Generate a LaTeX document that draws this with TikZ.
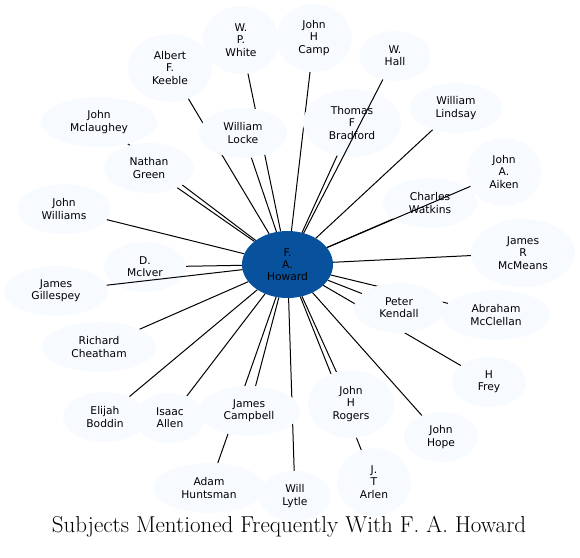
\documentclass[tikz,border=0pt]{standalone}
\usepackage{fontspec}
\newfontfamily\nodefont{DejaVu Sans}
\usetikzlibrary{shapes.geometric,backgrounds}
\definecolor{lightblue}{HTML}{F7FBFF}
\definecolor{darkblue}{HTML}{08519C}
\begin{document}
\begin{tikzpicture}[x=1pt,y=-1pt,
  person/.style={ellipse, fill=lightblue, inner sep=0pt, outer sep=0pt, align=center,
    font=\nodefont\fontsize{10.7}{12.3}\selectfont},
  link/.style={black, line width=1pt}]
\useasboundingbox (0,0) rectangle (580,557);
\node[person, minimum width=91, minimum height=67, fill=darkblue] (howard) at (287.5,264.5) {F.\\A.\\Howard};
\node[person, minimum width=76, minimum height=68] (white) at (241,40) {W.\\P.\\White};
\node[person, minimum width=76, minimum height=68] (camp) at (314,38) {John\\H\\Camp};
\node[person, minimum width=84, minimum height=68] (keeble) at (170,68) {Albert\\F.\\Keeble};
\node[person, minimum width=72, minimum height=50] (hall) at (395,56) {W.\\Hall};
\node[person, minimum width=116, minimum height=50] (mclaughey) at (99,122) {John\\Mclaughey};
\node[person, minimum width=88, minimum height=50] (locke) at (243,133) {William\\Locke};
\node[person, minimum width=98, minimum height=68] (bradford) at (352,123) {Thomas\\F\\Bradford};
\node[person, minimum width=92, minimum height=50] (lindsay) at (456,108) {William\\Lindsay};
\node[person, minimum width=90, minimum height=50] (green) at (149,168) {Nathan\\Green};
\node[person, minimum width=74, minimum height=68] (aiken) at (504,172) {John\\A.\\Aiken};
\node[person, minimum width=94, minimum height=50] (watkins) at (430,203) {Charles\\Watkins};
\node[person, minimum width=94, minimum height=50] (williams) at (64,209) {John\\Williams};
\node[person, minimum width=104, minimum height=68] (mcmeans) at (523,253) {James\\R\\McMeans};
\node[person, minimum width=82, minimum height=50] (mciver) at (145,267) {D.\\McIver};
\node[person, minimum width=104, minimum height=50] (gillespey) at (56,291) {James\\Gillespey};
\node[person, minimum width=90, minimum height=50] (kendall) at (399,308) {Peter\\Kendall};
\node[person, minimum width=108, minimum height=50] (mcclellan) at (496,315) {Abraham\\McClellan};
\node[person, minimum width=114, minimum height=50] (cheatham) at (99,347) {Richard\\Cheatham};
\node[person, minimum width=74, minimum height=50] (frey) at (489,382) {H\\Frey};
\node[person, minimum width=86, minimum height=68] (rogers) at (351,404) {John\\H\\Rogers};
\node[person, minimum width=84, minimum height=50] (boddin) at (105,417) {Elijah\\Boddin};
\node[person, minimum width=70, minimum height=50] (allen) at (170,418) {Isaac\\Allen};
\node[person, minimum width=102, minimum height=50] (campbell) at (249,411) {James\\Campbell};
\node[person, minimum width=74, minimum height=50] (hope) at (441,437) {John\\Hope};
\node[person, minimum width=74, minimum height=68] (arlen) at (374,482) {J.\\T\\Arlen};
\node[person, minimum width=112, minimum height=50] (huntsman) at (209,488) {Adam\\Huntsman};
\node[person, minimum width=72, minimum height=50] (lytle) at (295,496) {Will\\Lytle};
\begin{scope}[on background layer]
  \foreach \t in {white,camp,keeble,mclaughey,locke,bradford,lindsay,green,watkins,
    williams,mcmeans,mciver,kendall,mcclellan,cheatham,frey,rogers,boddin,allen,
    campbell,hope,arlen,huntsman,lytle}
    \draw[link] (howard) -- (\t);
\end{scope}
\draw[link] (howard) -- (hall);
\draw[link] (howard) -- (aiken);
\draw[link] (howard) -- (gillespey);
\node (title) at (289,526.5) {\fontsize{23}{26}\selectfont Subjects Mentioned Frequently With F. A. Howard};
\end{tikzpicture}
\end{document}
